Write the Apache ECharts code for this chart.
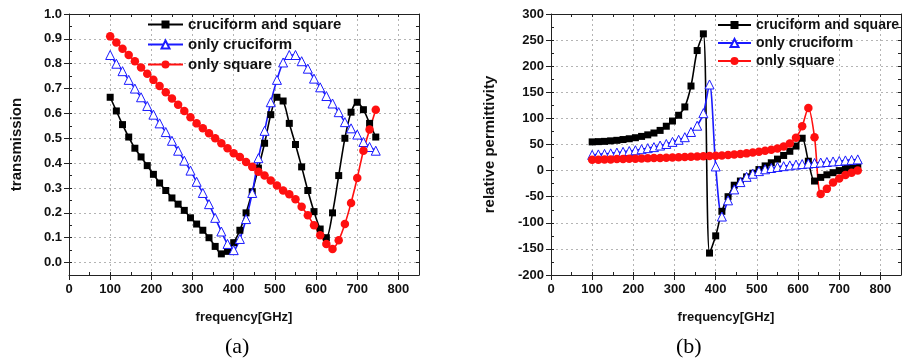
<!DOCTYPE html>
<html>
<head>
<meta charset="utf-8">
<script src="https://cdn.jsdelivr.net/npm/echarts@6/dist/echarts.min.js"></script>
<style>
  html, body { margin: 0; padding: 0; background: #fff; }
  #chart { width: 904px; height: 363px; }
</style>
</head>
<body>
<div id="chart"></div>
<script>
// frequency samples [GHz], shared by both panels
const freq = [100, 115, 130, 145, 160, 175, 190, 205, 220, 235, 250, 265, 280, 295, 310,
  325, 340, 355, 370, 385, 400, 415, 430, 445, 460, 475, 490, 505, 520, 535, 550,
  565, 580, 595, 610, 625, 640, 655, 670, 685, 700, 715, 730, 745];

const seriesNames = ["cruciform and square", "only cruciform", "only square"];

// (a) transmission
const transBoth = [0.665, 0.61, 0.555, 0.505, 0.46, 0.425, 0.39, 0.355, 0.32, 0.29, 0.26,
  0.235, 0.21, 0.18, 0.155, 0.13, 0.10, 0.065, 0.035, 0.045, 0.08, 0.13, 0.2, 0.285,
  0.38, 0.48, 0.595, 0.665, 0.65, 0.56, 0.475, 0.385, 0.29, 0.205, 0.135, 0.1, 0.2,
  0.35, 0.5, 0.605, 0.645, 0.615, 0.56, 0.505];
const transCross = [0.835, 0.80, 0.77, 0.735, 0.70, 0.665, 0.63, 0.595, 0.56, 0.525, 0.49,
  0.45, 0.41, 0.37, 0.325, 0.28, 0.235, 0.18, 0.125, 0.075, 0.05, 0.095, 0.175, 0.28,
  0.42, 0.53, 0.645, 0.735, 0.805, 0.835, 0.835, 0.81, 0.78, 0.74, 0.705, 0.67, 0.64,
  0.605, 0.565, 0.54, 0.515, 0.485, 0.465, 0.45];
const transSquare = [0.91, 0.885, 0.86, 0.835, 0.81, 0.785, 0.76, 0.735, 0.71, 0.685, 0.66,
  0.635, 0.61, 0.585, 0.56, 0.54, 0.52, 0.5, 0.48, 0.46, 0.44, 0.425, 0.405, 0.385,
  0.365, 0.35, 0.33, 0.31, 0.29, 0.275, 0.255, 0.225, 0.19, 0.15, 0.11, 0.075, 0.055,
  0.09, 0.155, 0.24, 0.34, 0.45, 0.535, 0.615];

// (b) relative permittivity
const permBoth = [55, 55.5, 56, 57, 58, 59.5, 61, 63, 65.5, 68.5, 72, 77, 85, 95, 106,
  122, 162, 230, 262, -158, -125, -78, -50, -28, -20, -12, -5, 2, 9, 15, 22, 29, 37,
  47, 62, 18, -20, -13, -8, -4, 0, 4, 8, 11];
const permCross = [30, 31, 32, 33, 34.5, 36, 37.5, 39, 41, 43, 45, 48, 51, 55, 59, 64,
  74, 86, 110, 165, 8, -88, -57, -36, -22, -12, -6, -1, 2.5, 5, 7, 8.5, 10, 11.5, 12.5,
  13.5, 14.5, 15.5, 16.5, 17.5, 18.5, 19.5, 20.5, 21.5];
const permSquare = [21, 21, 21.5, 21.5, 22, 22, 22.5, 22.5, 23, 23.5, 24, 24, 24.5, 25,
  25.5, 26, 26.5, 27, 27.5, 28, 28.5, 29, 30, 31, 32, 33, 34.5, 36, 38, 40, 42.5, 46,
  52, 63, 85, 120, 64, -45, -35, -23, -15, -8.5, -4, 0];

const FONT = '"Liberation Sans", Arial, sans-serif';
const AXIS_COLOR = "#222";
const BLUE = "#1a1aff";
const RED = "#ff1010";

const pairs = (vals) => freq.map((f, i) => [f, vals[i]]);

const chart = echarts.init(document.getElementById("chart"), null, { renderer: "canvas" });

// main bottom/left axis: labels, outward major ticks, dotted grid
function mainAxis(grid, pos, min, max, step, name, nameGap, extra) {
  return Object.assign({
    type: "value",
    gridIndex: grid,
    position: pos,
    min: min,
    max: max,
    interval: step,
    name: name,
    nameLocation: "middle",
    nameGap: nameGap,
    nameTextStyle: { fontFamily: FONT, fontWeight: "bold", fontSize: 13, color: "#111" },
    axisLine: { show: true, onZero: false, lineStyle: { color: AXIS_COLOR, width: 1 } },
    axisTick: { show: true, length: 5, lineStyle: { color: AXIS_COLOR } },
    axisLabel: {
      fontFamily: FONT, fontWeight: "bold", fontSize: 13, color: "#111",
      showMaxLabel: pos === "left", margin: 8,
    },
    splitLine: { show: true, lineStyle: { color: "#b4b4b4", width: 1, type: [2, 3] } },
  }, extra || {});
}

// tick-only axis (minor ticks or mirrored frame side)
function tickAxis(grid, pos, min, max, step, showLine) {
  return {
    type: "value",
    gridIndex: grid,
    position: pos,
    min: min,
    max: max,
    interval: step,
    axisLine: { show: showLine, onZero: false, lineStyle: { color: AXIS_COLOR, width: 1 } },
    axisTick: { show: true, inside: true, length: 3, lineStyle: { color: AXIS_COLOR } },
    axisLabel: { show: false },
    splitLine: { show: false },
  };
}

const xAxes = [];
const yAxes = [];
[0, 1].forEach((g) => {
  xAxes.push(mainAxis(g, "bottom", 0, 850, 100, "frequency[GHz]", 36));
  xAxes.push(tickAxis(g, "bottom", 0, 850, 50, false));
  xAxes.push(tickAxis(g, "top", 0, 850, 50, true));
});

// (a): min -0.05 is not a multiple of 0.1, so let ECharts place the 0.1 ticks
yAxes.push(mainAxis(0, "left", -0.05, 1.0, null, "transmission", 45, {
  splitNumber: 10,
  nameTextStyle: { fontFamily: FONT, fontWeight: "bold", fontSize: 15, color: "#111" },
  axisLabel: {
    fontFamily: FONT, fontWeight: "bold", fontSize: 13, color: "#111", margin: 7,
    showMinLabel: false, formatter: (v) => v.toFixed(1),
  },
}));
yAxes.push(tickAxis(0, "left", -0.05, 1.0, 0.05, false));
yAxes.push(tickAxis(0, "right", -0.05, 1.0, 0.05, true));

yAxes.push(mainAxis(1, "left", -200, 300, 50, "relative permittivity", 54, {
  nameTextStyle: { fontFamily: FONT, fontWeight: "bold", fontSize: 15, color: "#111" },
  axisLabel: { fontFamily: FONT, fontWeight: "bold", fontSize: 13, color: "#111", margin: 7 },
}));
yAxes.push(tickAxis(1, "left", -200, 300, 25, false));
yAxes.push(tickAxis(1, "right", -200, 300, 25, true));

function lineSeries(name, grid, vals, kind) {
  const base = {
    name: name,
    type: "line",
    xAxisIndex: grid * 3,
    yAxisIndex: grid * 3,
    data: pairs(vals),
    smooth: 0.3,
    animation: false,
    showAllSymbol: true,
  };
  if (kind === "both") {
    return Object.assign(base, {
      symbol: "rect", symbolSize: 7,
      itemStyle: { color: "#000" },
      lineStyle: { color: "#000", width: 1.6 },
    });
  }
  if (kind === "cross") {
    return Object.assign(base, {
      symbol: "triangle", symbolSize: 9,
      itemStyle: { color: "#fff", borderColor: BLUE, borderWidth: 1 },
      lineStyle: { color: BLUE, width: 1.6 },
    });
  }
  return Object.assign(base, {
    symbol: "circle", symbolSize: 8.5,
    itemStyle: { color: RED },
    lineStyle: { color: RED, width: 1.6 },
  });
}

const series = [
  lineSeries(seriesNames[0], 0, transBoth, "both"),
  lineSeries(seriesNames[1], 0, transCross, "cross"),
  lineSeries(seriesNames[2], 0, transSquare, "square"),
  lineSeries(seriesNames[0], 1, permBoth, "both"),
  lineSeries(seriesNames[1], 1, permCross, "cross"),
  lineSeries(seriesNames[2], 1, permSquare, "square"),
];

function legendAt(left, top, fontSize, itemWidth, itemGap) {
  return {
    data: seriesNames,
    orient: "vertical",
    left: left,
    top: top,
    padding: 0,
    itemWidth: itemWidth,
    itemHeight: 10,
    itemGap: itemGap,
    selectedMode: false,
    textStyle: { fontFamily: FONT, fontWeight: "bold", fontSize: fontSize, color: "#111" },
  };
}

const option = {
  backgroundColor: "#fff",
  animation: false,
  grid: [
    { left: 69, top: 14, width: 350, height: 261, containLabel: false, outerBoundsMode: "none" },
    { left: 551, top: 14, width: 350, height: 261, containLabel: false, outerBoundsMode: "none" },
  ],
  legend: [
    legendAt(147, 17, 15, 35, 5),
    legendAt(717, 18, 14, 33, 4),
  ],
  xAxis: xAxes,
  yAxis: yAxes,
  series: series,
  graphic: [
    {
      type: "text", left: 225, top: 336,
      style: { text: "(a)", font: '22px "Liberation Serif", "Times New Roman", serif', fill: "#000" },
    },
    {
      type: "text", left: 676, top: 336,
      style: { text: "(b)", font: '22px "Liberation Serif", "Times New Roman", serif', fill: "#000" },
    },
  ],
};

chart.setOption(option);
</script>
</body>
</html>
